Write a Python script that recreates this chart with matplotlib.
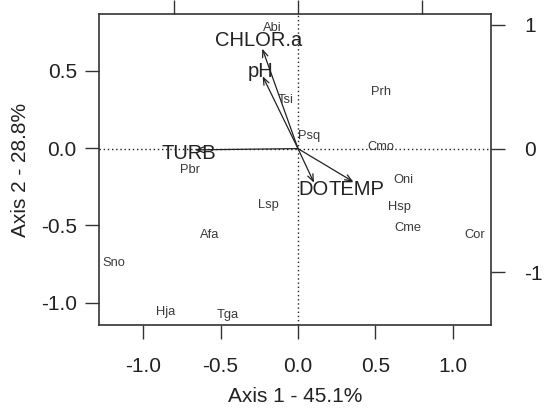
import matplotlib
matplotlib.use('Agg')
import matplotlib.pyplot as plt

plt.rcParams['font.family'] = ['Liberation Sans', 'DejaVu Sans']

# species scores (bottom / left axes)
species = ['Abi', 'Tsi', 'Psq', 'Prh', 'Cmo', 'Pbr', 'Oni', 'Lsp', 'Hsp',
           'Cme', 'Cor', 'Afa', 'Sno', 'Hja', 'Tga']
sp_x = [-0.163, -0.077, 0.073, 0.54, 0.535, -0.697, 0.68, -0.192, 0.654,
        0.712, 1.142, -0.572, -1.187, -0.858, -0.456]
sp_y = [0.776, 0.313, 0.081, 0.36, 0.008, -0.143, -0.208, -0.365, -0.38,
        -0.519, -0.563, -0.565, -0.745, -1.063, -1.079]

# environmental vectors (top / right axes)
variables = ['CHLOR.a', 'pH', 'TURB', 'DO', 'TEMP']
arr_x = [-0.288, -0.285, -0.83, 0.129, 0.446]
arr_y = [0.808, 0.585, -0.01, -0.276, -0.268]
lab_x = [-0.32, -0.30, -0.877, 0.124, 0.473]
lab_y = [0.875, 0.627, -0.04, -0.33, -0.33]

xticks = [-1.0, -0.5, 0.0, 0.5, 1.0]
yticks = [-1.0, -0.5, 0.0, 0.5]
ticks2 = [-1, 0, 1]

fig = plt.figure(figsize=(5.44, 4.09), dpi=100)
pos = [0.182, 0.205, 0.72, 0.761]
ax = fig.add_axes(pos)
ax.set_xlim(-1.286, 1.246)
ax.set_ylim(-1.145, 0.868)

for i in range(len(species)):
    ax.text(sp_x[i], sp_y[i], species[i], ha='center', va='center',
            fontsize=9.3, color='#3a3a3a')

ax.set_xticks(xticks)
ax.set_xticklabels(['%.1f' % v for v in xticks])
ax.set_yticks(yticks)
ax.set_yticklabels(['%.1f' % v for v in yticks])
ax.tick_params(direction='out', length=10, width=1, colors='#333333',
               labelsize=15, labelcolor='#222222')
ax.tick_params(axis='x', pad=13)
ax.tick_params(axis='y', pad=6)
ax.set_xlabel('Axis 1 - 45.1%', fontsize=15, color='#222222', labelpad=8)
ax.set_ylabel('Axis 2 - 28.8%', fontsize=15, color='#222222', labelpad=8)
for s in ax.spines.values():
    s.set_color('#333333')
    s.set_linewidth(1.2)

ax2 = fig.add_axes(pos, frameon=False)
ax2.set_xlim(-1.605, 1.554)
ax2.set_ylim(-1.427, 1.089)
ax2.axhline(0, color='#222222', lw=1, ls=(0, (1, 2)))
ax2.axvline(0, color='#222222', lw=1, ls=(0, (1, 2)))
for i in range(len(variables)):
    ax2.annotate('', xy=(arr_x[i], arr_y[i]), xytext=(0, 0),
                 arrowprops=dict(arrowstyle='->,head_length=0.5,head_width=0.2',
                                 color='#222222', lw=0.9, shrinkA=0, shrinkB=0))
    ax2.text(lab_x[i], lab_y[i], variables[i], ha='center', va='center',
             fontsize=14.5, color='#222222')
ax2.xaxis.tick_top()
ax2.yaxis.tick_right()
ax2.set_xticks(ticks2)
ax2.set_yticks(ticks2)
ax2.set_xticklabels([])
ax2.set_yticklabels([str(v) for v in ticks2])
ax2.tick_params(direction='out', length=10, width=1, colors='#333333',
                labelsize=15, labelcolor='#222222', pad=14)

fig.savefig('out.png', dpi=100)
